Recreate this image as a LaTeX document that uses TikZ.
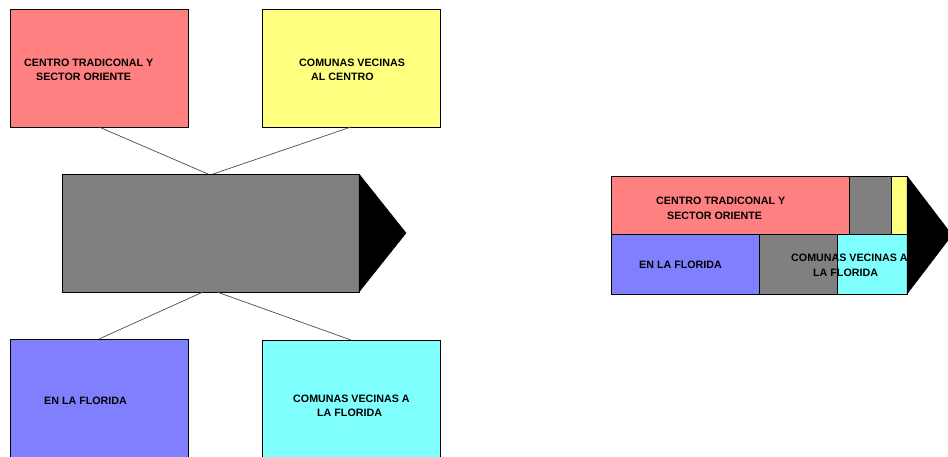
\documentclass[tikz,border=0pt]{standalone}
\usepackage{fontspec}
\setmainfont{Liberation Sans}
\definecolor{redf}{HTML}{FF8080}
\definecolor{yelf}{HTML}{FFFF80}
\definecolor{grayf}{HTML}{808080}
\definecolor{bluef}{HTML}{8080FF}
\definecolor{cyanf}{HTML}{80FFFF}
\begin{document}
\begin{tikzpicture}[x=1pt,y=-1pt,
  box/.style={draw=black,line width=0.7pt,inner sep=0pt,outer sep=0pt,anchor=north west},
  lbl/.style={font=\bfseries\fontsize{10.7}{13}\selectfont,inner sep=0pt,anchor=base west},
  conn/.style={draw=black!70,line width=0.7pt},
  tipf/.style={fill=black,draw=black,line width=0.5pt}]
\useasboundingbox (0,0) rectangle (948,456);

% left diagram
\node[box,fill=redf,minimum width=178pt,minimum height=118pt] (red) at (10,9) {};
\node[box,fill=yelf,minimum width=178pt,minimum height=118pt] (yel) at (262,9) {};
\node[box,fill=grayf,minimum width=297pt,minimum height=118pt] (gr) at (62,174) {};
\coordinate (tip) at (406,233);
\node[box,fill=bluef,minimum width=178pt,minimum height=120pt] (blu) at (10,339) {};
\node[box,fill=cyanf,minimum width=178pt,minimum height=120pt] (cya) at (262,340) {};

\draw[conn] (red.south) -- ([xshift=-2.5pt]gr.north);
\draw[conn] (yel.south) -- ([xshift=2.5pt]gr.north);
\draw[conn] ([xshift=-7.5pt]gr.south) -- (blu.north);
\draw[conn] ([xshift=6.5pt]gr.south) -- (cya.north);
\fill[tipf] (gr.north east) -- (tip) -- (gr.south east) -- cycle;

\node[lbl] (t1a) at (24,66) {CENTRO TRADICONAL Y};
\node[lbl] (t1b) at (36,80) {SECTOR ORIENTE};
\node[lbl] (t2a) at (299,66) {COMUNAS VECINAS};
\node[lbl] (t2b) at (311,80) {AL CENTRO};
\node[lbl] (t3a) at (44,404) {EN LA FLORIDA};
\node[lbl] (t4a) at (293,402) {COMUNAS VECINAS A};
\node[lbl] (t4b) at (317,416.5) {LA FLORIDA};

% right diagram
\node[box,fill=redf,minimum width=238pt,minimum height=58pt] (rr) at (611,176) {};
\node[box,fill=grayf,minimum width=42pt,minimum height=58pt] (rg1) at (849,176) {};
\node[box,fill=yelf,minimum width=16pt,minimum height=58pt] (ry) at (891,176) {};
\node[box,fill=bluef,minimum width=148pt,minimum height=60pt] (rb) at (611,234) {};
\node[box,fill=grayf,minimum width=78pt,minimum height=60pt] (rg2) at (759,234) {};
\node[box,fill=cyanf,minimum width=70pt,minimum height=60pt] (rc) at (837,234) {};

\node[lbl] (r1a) at (656,204) {CENTRO TRADICONAL Y};
\node[lbl] (r1b) at (667,219) {SECTOR ORIENTE};
\node[lbl] (r3a) at (639,268) {EN LA FLORIDA};
\node[lbl] (r4a) at (791,261.5) {COMUNAS VECINAS A};
\node[lbl] (r4b) at (813,276) {LA FLORIDA};

\coordinate (rtip) at (952,235);
\fill[tipf] (ry.north east) -- (rtip) -- (rc.south east) -- cycle;
\end{tikzpicture}
\end{document}
